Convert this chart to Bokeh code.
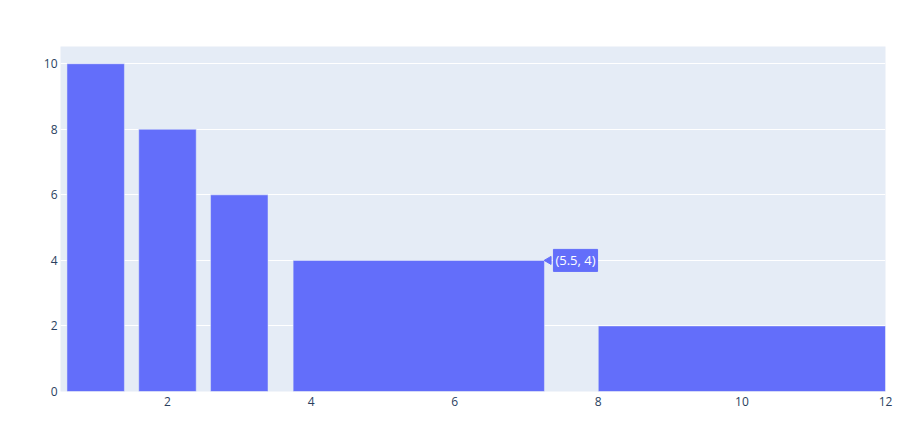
from bokeh.plotting import figure
from bokeh.models import Range1d, FixedTicker, Label, ColumnDataSource
from bokeh.embed import file_html
from bokeh.resources import INLINE

# Data
x_centers = [1, 2, 3, 5.5, 10]
widths = [0.8, 0.8, 0.8, 3.5, 4]
heights = [10, 8, 6, 4, 2]
x_ticks = [2, 4, 6, 8, 10, 12]
y_ticks = [0, 2, 4, 6, 8, 10]
hover_index = 3

BAR = "#636efa"
BG = "#E5ECF6"
TXT = "#2a3f5f"
FONT = "Open Sans"

p = figure(width=908, height=426, output_backend="svg", toolbar_location=None,
           x_range=Range1d(0.51, 12.0), y_range=Range1d(0, 10.526),
           min_border_left=60, min_border_right=23, min_border_top=46, min_border_bottom=35)
p.background_fill_color = BG
p.border_fill_color = "white"
p.outline_line_color = None

src = ColumnDataSource(dict(x=x_centers, w=widths, top=heights))
p.vbar(x="x", width="w", top="top", bottom=0, source=src,
       fill_color=BAR, line_color=BG, line_width=0.5)

p.xgrid.grid_line_color = None
p.ygrid.grid_line_color = "white"
p.ygrid.grid_line_width = 1
p.ygrid.ticker = FixedTicker(ticks=y_ticks)

for ax in (p.xaxis[0], p.yaxis[0]):
    ax.axis_line_color = None
    ax.major_tick_line_color = None
    ax.minor_tick_line_color = None
    ax.major_tick_out = 0
    ax.major_tick_in = 0
    ax.minor_tick_out = 0
    ax.major_label_text_color = TXT
    ax.major_label_text_font = FONT
    ax.major_label_text_font_size = "12px"
p.xaxis.ticker = FixedTicker(ticks=x_ticks)
p.yaxis.ticker = FixedTicker(ticks=y_ticks)
p.xaxis.major_label_standoff = 5
p.yaxis.major_label_standoff = 3

# hover-style label at the right edge of the hovered bar
hx = x_centers[hover_index] + widths[hover_index] / 2
hy = heights[hover_index]
p.scatter(x=[hx + 0.06], y=[hy], marker="triangle", size=8, angle=1.5708,
          fill_color=BAR, line_color=BAR)
lab = Label(x=hx, y=hy, x_offset=9, y_offset=0, text=f"({x_centers[hover_index]}, {heights[hover_index]})",
            text_color="white", text_font=FONT, text_font_size="13px",
            text_baseline="middle", text_align="left",
            background_fill_color=BAR, border_line_color=BAR,
            padding=2)
p.add_layout(lab)

open("out.html", "w").write(file_html(p, INLINE))
